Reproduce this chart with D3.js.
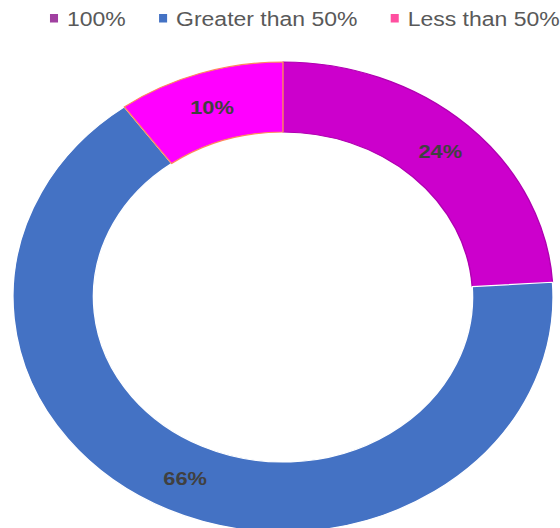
<!DOCTYPE html>
<html>
<head>
<meta charset="utf-8">
<script src="https://cdn.jsdelivr.net/npm/d3@7/dist/d3.min.js"></script>
<style>
  html, body { margin: 0; padding: 0; background: #fff; }
  svg { display: block; }
</style>
</head>
<body>
<script>
// Share of responses by completion level
const categories = ["100%", "Greater than 50%", "Less than 50%"];
const values = [24, 66, 10];
const labels = ["24%", "66%", "10%"];
const sliceColors = ["#cc00cc", "#4472c4", "#ff00ff"];
const sliceStrokes = ["#b000b0", "#ffffff", "#ff8a5c"];
const legendColors = ["#a040a0", "#4472c4", "#ff4fa0"];

const W = 560, H = 528;
const stretch = 1.149;            // chart is drawn wider than tall
const vw = W / stretch;

const svg = d3.select("body").append("svg")
  .attr("width", W).attr("height", H)
  .attr("viewBox", `0 0 ${vw} ${H}`)
  .attr("preserveAspectRatio", "none");

const cx = 246.3, cy = 297, rOuter = 235, rInner = 165;

const pie = d3.pie().sort(null).value(d => d);
const arcs = pie(values);
const arc = d3.arc().innerRadius(rInner).outerRadius(rOuter);
const labelArc = d3.arc().innerRadius(200).outerRadius(200);

const g = svg.append("g").attr("transform", `translate(${cx},${cy})`);

g.selectAll("path.slice")
  .data(arcs)
  .join("path")
  .attr("class", "slice")
  .attr("d", arc)
  .attr("fill", (d, i) => sliceColors[i])
  .attr("stroke", (d, i) => sliceStrokes[i])
  .attr("stroke-width", 1.2)
  .attr("stroke-linejoin", "round");

g.selectAll("text.lbl")
  .data(arcs)
  .join("text")
  .attr("class", "lbl")
  .attr("transform", d => `translate(${labelArc.centroid(d)})`)
  .attr("text-anchor", "middle")
  .attr("dominant-baseline", "central")
  .attr("font-family", "Liberation Sans, Arial, sans-serif")
  .attr("font-weight", "bold")
  .attr("font-size", 19)
  .attr("fill", "#404040")
  .text((d, i) => labels[i]);

// Legend across the top
const legend = svg.append("g").attr("class", "legend");
let lx = 43.5;
categories.forEach((c, i) => {
  const item = legend.append("g").attr("transform", `translate(${lx},0)`);
  item.append("rect")
    .attr("x", 0).attr("y", 14)
    .attr("width", 7).attr("height", 8.5)
    .attr("fill", legendColors[i]);
  const t = item.append("text")
    .attr("x", 14.8).attr("y", 26)
    .attr("font-family", "Liberation Sans, Arial, sans-serif")
    .attr("font-size", 20)
    .attr("fill", "#595959")
    .text(c);
  lx += 14.8 + t.node().getComputedTextLength() + 29;
});
</script>
</body>
</html>
